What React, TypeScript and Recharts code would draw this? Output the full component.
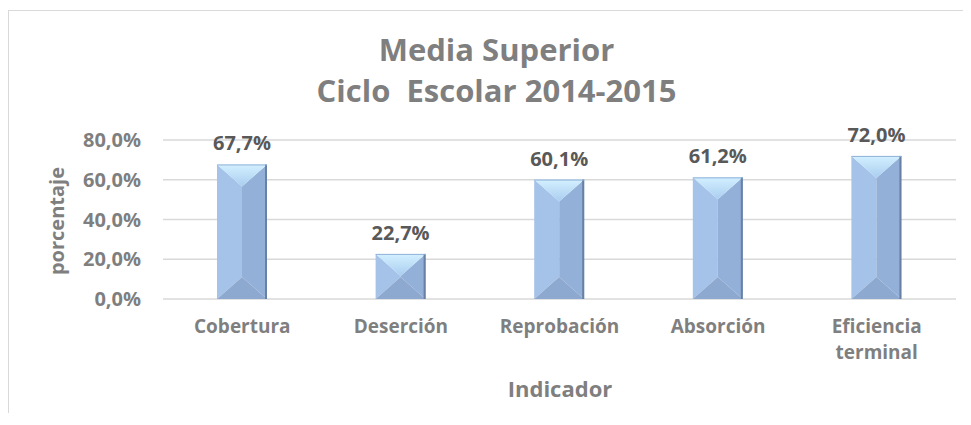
import { BarChart, Bar, XAxis, YAxis, CartesianGrid, LabelList, Text } from "recharts";

const categories = ["Cobertura", "Deserción", "Reprobación", "Absorción", "Eficiencia terminal"];
const values = [67.7, 22.7, 60.1, 61.2, 72.0];
const yTicks = [0, 20, 40, 60, 80];
const titleLines = ["Media Superior", "Ciclo  Escolar 2014-2015"];

const data = categories.map((name, i) => ({ name, value: values[i] }));

const FONT = "'Open Sans', 'Liberation Sans', sans-serif";
const fmt = (v: number) => v.toFixed(1).replace(".", ",") + "%";

// bevelled bar, like the office "angle" bevel
const BevelBar = (props: any) => {
  const { x, y, width: w, height: h } = props;
  if (!h || h <= 0) return null;
  const cx = x + w / 2;
  const d = Math.min(w * 0.44, h / 2);
  return (
    <g>
      <polygon points={`${x},${y} ${cx},${y + d} ${cx},${y + h - d} ${x},${y + h}`} fill="#a5c3e9" />
      <polygon points={`${x + w},${y} ${cx},${y + d} ${cx},${y + h - d} ${x + w},${y + h}`} fill="#93b0d9" />
      <polygon points={`${x},${y} ${x + w},${y} ${cx},${y + d}`} fill="url(#topFace)" />
      <polygon points={`${x},${y + h} ${cx},${y + h - d} ${x + w},${y + h}`} fill="#8ea9cf" />
      <line x1={x + w - 1} y1={y} x2={x + w - 1} y2={y + h} stroke="#6880a4" strokeWidth={2} />
      <line x1={x} y1={y + 0.5} x2={x + w} y2={y + 0.5} stroke="#8fb0d8" strokeWidth={1} />
    </g>
  );
};

const tickStyle = { fontSize: 19, fontWeight: "bold", fontFamily: FONT };

const CategoryTick = (props: any) => {
  const { x, y, payload } = props;
  return (
    <Text
      x={x}
      y={y}
      width={140}
      textAnchor="middle"
      verticalAnchor="start"
      lineHeight={26}
      fill="#7f7f7f"
      style={tickStyle}
      {...tickStyle}
    >
      {payload.value}
    </Text>
  );
};

export default function App() {
  return (
    <div
      style={{
        position: "relative",
        top: 2,
        width: 954,
        height: 404,
        borderLeft: "1px solid #d9d9d9",
        borderTop: "1px solid #d9d9d9",
        background: "#fff",
      }}
    >
      <BarChart
        width={954}
        height={404}
        data={data}
        margin={{ top: 129, right: 7, bottom: 56, left: 0 }}
        barSize={50}
      >
        <defs>
          <linearGradient id="topFace" x1="0" y1="0" x2="0" y2="1">
            <stop offset="0%" stopColor="#d3f0ff" />
            <stop offset="100%" stopColor="#aacdf0" />
          </linearGradient>
        </defs>
        <CartesianGrid vertical={false} stroke="#d9d9d9" strokeWidth={1.5} />
        <XAxis
          dataKey="name"
          axisLine={false}
          tickLine={false}
          tickSize={0}
          tickMargin={21}
          height={60}
          interval={0}
          tick={<CategoryTick />}
        />
        <YAxis
          width={154}
          domain={[0, 80]}
          ticks={yTicks}
          tickFormatter={fmt}
          axisLine={false}
          tickLine={false}
          tickSize={0}
          tickMargin={22}
          tick={{ fill: "#7f7f7f", fontSize: 20, fontWeight: "bold", fontFamily: FONT }}
        />
        <Bar dataKey="value" isAnimationActive={false} shape={<BevelBar />}>
          <LabelList
            dataKey="value"
            position="top"
            offset={14}
            formatter={(v: any) => fmt(Number(v))}
            fill="#595959"
            fontSize={20}
            fontWeight="bold"
            fontFamily={FONT}
          />
        </Bar>
      </BarChart>
      <svg
        width={954}
        height={404}
        style={{ position: "absolute", left: 0, top: 0, pointerEvents: "none" }}
      >
        <g fontFamily={FONT} fontWeight="bold" fill="#7f7f7f" textAnchor="middle">
          <text x={487.5} y={50} fontSize={31} style={{ whiteSpace: "pre" }}>{titleLines[0]}</text>
          <text x={487.5} y={91} fontSize={31} style={{ whiteSpace: "pre" }}>{titleLines[1]}</text>
          <text x={55} y={210} fontSize={20} transform="rotate(-90 55 210)">porcentaje</text>
          <text x={551} y={386} fontSize={22}>Indicador</text>
        </g>
      </svg>
    </div>
  );
}
